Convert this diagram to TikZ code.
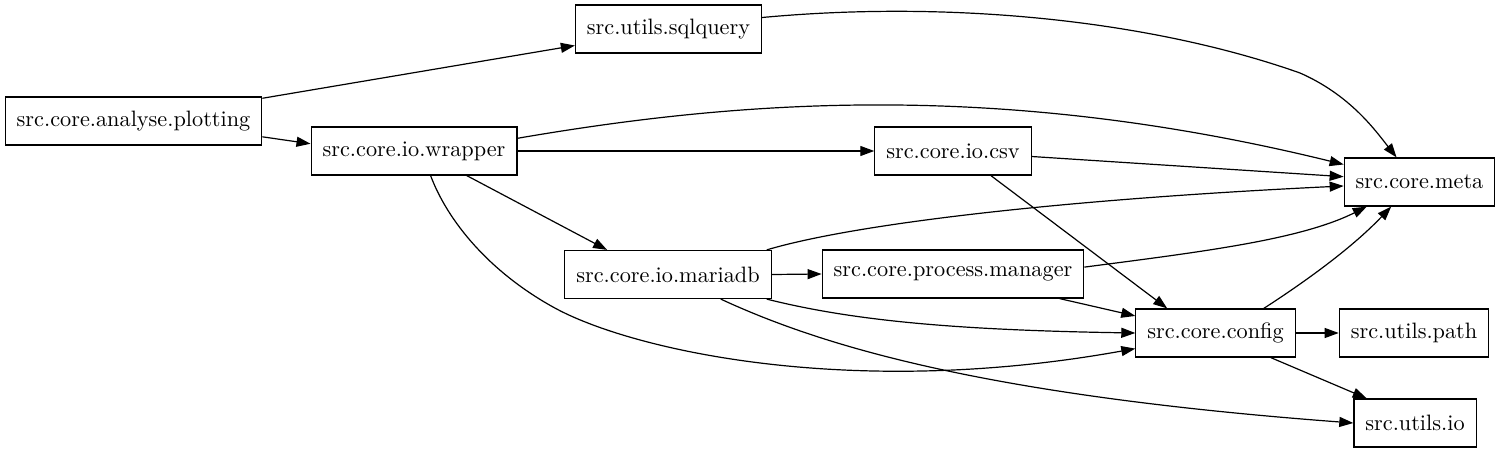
\documentclass[tikz,border=0pt]{standalone}
\usepackage{tikz}
\usepackage{fontspec}
\setmainfont{lmroman10-regular.otf}
\usetikzlibrary{arrows.meta}

\begin{document}
\begin{tikzpicture}[x=0.75pt,y=-0.75pt,
    mod/.style={rectangle,draw,line width=0.9pt,minimum height=36pt,inner xsep=8.6pt,font=\fontsize{16.7}{20}\selectfont},
    dep/.style={-{Triangle[length=10.5pt,width=7.5pt]},line width=0.9pt}]
    \useasboundingbox (0,0) rectangle (1501,452);

    % modules
    \node[mod] (plotting) at (133.5,121) {src.core.analyse.plotting};
    \node[mod] (sqlquery) at (668.5,29) {src.utils.sqlquery};
    \node[mod] (wrapper) at (414,151) {src.core.io.wrapper};
    \node[mod] (csv) at (953,151) {src.core.io.csv};
    \node[mod] (meta) at (1419.5,182) {src.core.meta};
    \node[mod] (mariadb) at (668,274.5) {src.core.io.mariadb};
    \node[mod] (manager) at (953,274) {src.core.process.manager};
    \node[mod] (config) at (1215.5,333) {src.core.config};
    \node[mod] (path) at (1414,333) {src.utils.path};
    \node[mod] (io) at (1415,423) {src.utils.io};

    % imports
    \draw[dep] (plotting.10) -- (sqlquery.190);
    \draw[dep] (plotting.-7) -- (wrapper.176);
    \draw[dep] (sqlquery.7) .. controls (950,0) and (1150,20) .. (1300,73)
        .. controls (1350,95) and (1375,130) .. (meta.133);
    \draw[dep] (wrapper.7) .. controls (740,100) and (1000,80) .. (meta.167);
    \draw[dep] (wrapper.east) -- (csv.west);
    \draw[dep] (wrapper.-25) -- (mariadb.158);
    \draw[dep] (wrapper.-56) .. controls (448,222) and (490,272) .. (553,307)
        .. controls (630,350) and (850,400) .. (config.191);
    \draw[dep] (csv.-4) -- (meta.176);
    \draw[dep] (csv.-33) -- (config.153);
    \draw[dep] (mariadb.14) .. controls (850,225) and (1050,200) .. (meta.183);
    \draw[dep] (mariadb.east) -- (manager.west);
    \draw[dep] (mariadb.-14) .. controls (850,320) and (950,330) .. (config.west);
    \draw[dep] (mariadb.-25) .. controls (820,345) and (980,395) .. (io.west);
    \draw[dep] (manager.3) .. controls (1200,252) and (1300,240) .. (meta.205);
    \draw[dep] (manager.-13) -- (config.168);
    \draw[dep] (config.27) .. controls (1300,285) and (1350,250) .. (meta.221);
    \draw[dep] (config.east) -- (path.west);
    \draw[dep] (config.-24) -- (io.153);
\end{tikzpicture}
\end{document}
